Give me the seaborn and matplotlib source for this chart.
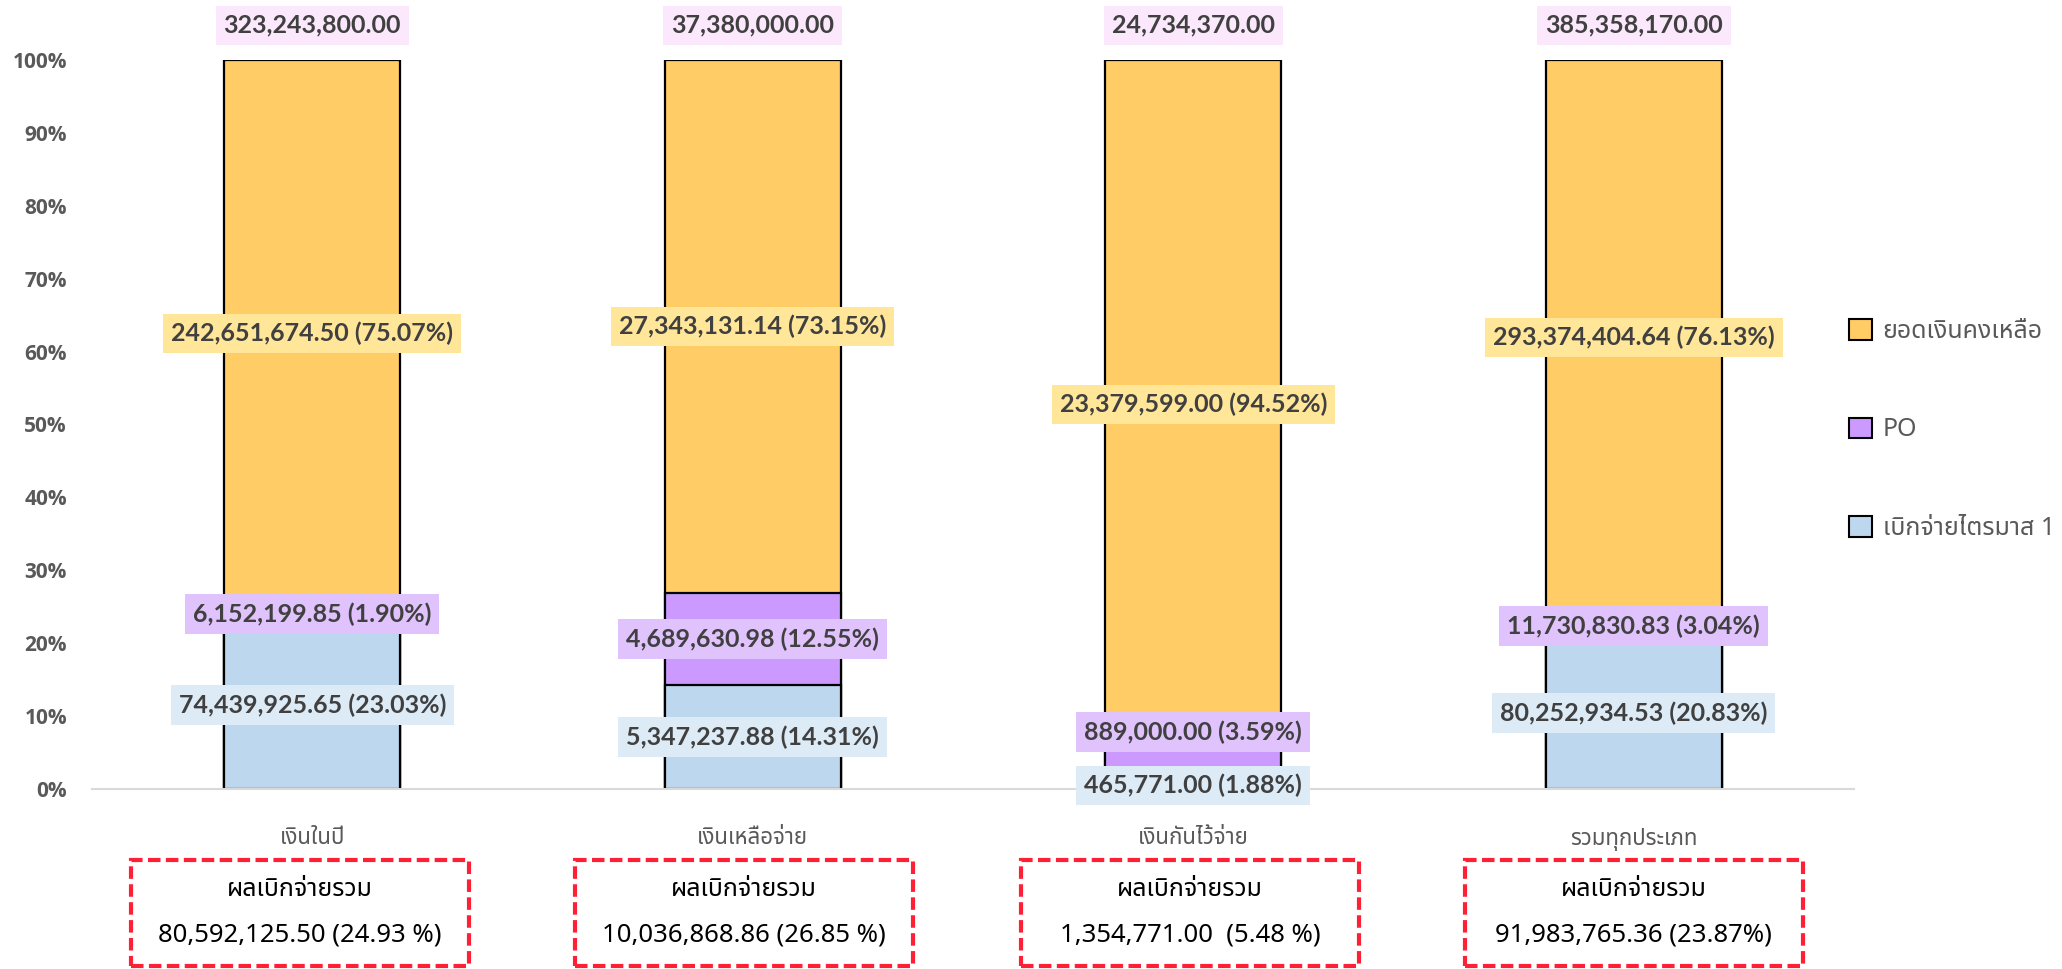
import matplotlib
matplotlib.use("Agg")
import matplotlib.pyplot as plt
import matplotlib.transforms as mtransforms
from matplotlib.patches import Patch, Rectangle
import numpy as np
import pandas as pd
import seaborn as sns

# ---------------- data ----------------
categories = ["เงินในปี", "เงินเหลือจ่าย", "เงินกันไว้จ่าย", "รวมทุกประเภท"]
series_names = ["เบิกจ่ายไตรมาส 1", "PO", "ยอดเงินคงเหลือ"]

disbursed_values = ["74,439,925.65", "5,347,237.88", "465,771.00", "80,252,934.53"]
disbursed_pct = [23.03, 14.31, 1.88, 20.83]
po_values = ["6,152,199.85", "4,689,630.98", "889,000.00", "11,730,830.83"]
po_pct = [1.90, 12.55, 3.59, 3.04]
remaining_values = ["242,651,674.50", "27,343,131.14", "23,379,599.00", "293,374,404.64"]
remaining_pct = [75.07, 73.15, 94.52, 76.13]
total_values = ["323,243,800.00", "37,380,000.00", "24,734,370.00", "385,358,170.00"]
summary_title = "ผลเบิกจ่ายรวม"
summary_texts = ["80,592,125.50 (24.93 %)", "10,036,868.86 (26.85 %)",
                 "1,354,771.00  (5.48 %)", "91,983,765.36 (23.87%)"]
ytick_labels = ["0%", "10%", "20%", "30%", "40%", "50%", "60%", "70%", "80%", "90%", "100%"]

# ---------------- style ----------------
sns.set_theme(style="white")
plt.rcParams["font.family"] = ["Noto Sans Thai", "DejaVu Sans"]

col_disb = "#BDD7EE"
col_po = "#CC99FF"
col_rem = "#FFCC66"
bg_disb = "#DDEBF7"
bg_po = "#E0C3FD"
bg_rem = "#FFE699"
bg_tot = "#FCE8FC"
txt_col = "#404040"
axis_col = "#595959"
num_font = ["Lato", "DejaVu Sans"]

W, H = 2062, 969
fig = plt.figure(figsize=(W / 100, H / 100), dpi=100)
ax = fig.add_axes([92 / W, 1 - 789 / H, (1854 - 92) / W, (789 - 60) / H])

df = pd.DataFrame({
    "category": categories,
    "disb": np.array(disbursed_pct) / 100,
    "po": np.array(po_pct) / 100,
    "rem": np.array(remaining_pct) / 100,
})
df["c_po"] = df["disb"] + df["po"]
df["c_rem"] = df["c_po"] + df["rem"]

bar_w = 0.4
for col, color in [("c_rem", col_rem), ("c_po", col_po), ("disb", col_disb)]:
    sns.barplot(data=df, x="category", y=col, color=color, width=bar_w,
                edgecolor="black", linewidth=1.6, ax=ax, saturation=1, zorder=2)

ax.set_ylim(0, 1)
ax.set_xlim(-0.5, len(categories) - 0.5)
ax.set_yticks(np.linspace(0, 1, 11))
ax.set_yticklabels(ytick_labels, fontsize=15, fontweight="bold", color=axis_col,
                   family=["Open Sans", "DejaVu Sans"])
ax.tick_params(axis="y", length=0, pad=18)
ax.set_xticks(range(len(categories)))
ax.set_xticklabels(categories, fontsize=16, color=axis_col)
ax.tick_params(axis="x", which="major", length=0, pad=28)
ax.set_xticks(np.arange(-0.5, len(categories)), minor=True)
ax.tick_params(axis="x", which="minor", length=7, width=1.2, color="#D9D9D9", direction="out")
ax.set_xlabel("")
ax.set_ylabel("")
for s in ["top", "right", "left"]:
    ax.spines[s].set_visible(False)
ax.spines["bottom"].set_color("#D9D9D9")
ax.spines["bottom"].set_linewidth(1.5)
ax.spines["bottom"].set_zorder(3)

# ---------------- data labels ----------------
label_kw = dict(ha="center", va="center", fontsize=18, fontweight="bold", color=txt_col,
                family=num_font, zorder=5, clip_on=False)
box = "square,pad=0.32"
lab_override = {(2, "po"): 0.078, (2, "disb"): 0.005}
for i in range(len(categories)):
    d, p, r = df.loc[i, "disb"], df.loc[i, "po"], df.loc[i, "rem"]
    y_d = lab_override.get((i, "disb"), d / 2)
    y_p = lab_override.get((i, "po"), d + p / 2)
    y_r = d + p + r / 2
    ax.text(i, y_r, f"{remaining_values[i]} ({remaining_pct[i]:.2f}%)",
            bbox=dict(boxstyle=box, fc=bg_rem, ec="none"), **label_kw)
    ax.text(i, y_p, f"{po_values[i]} ({po_pct[i]:.2f}%)",
            bbox=dict(boxstyle=box, fc=bg_po, ec="none"), **label_kw)
    ax.text(i, y_d, f"{disbursed_values[i]} ({disbursed_pct[i]:.2f}%)",
            bbox=dict(boxstyle=box, fc=bg_disb, ec="none"), **label_kw)
    ax.text(i, 1.048, total_values[i],
            bbox=dict(boxstyle=box, fc=bg_tot, ec="none"), **label_kw)

# ---------------- summary boxes ----------------
trans = mtransforms.blended_transform_factory(ax.transData, fig.transFigure)
cat_px = (1854 - 92) / len(categories)
box_dx_px = [-12, -9, -3, 0]
box_w = 338 / cat_px
box_top = 1 - 860 / H
box_bot = 1 - 966 / H
for i in range(len(categories)):
    cx = i + box_dx_px[i] / cat_px
    rect = Rectangle((cx - box_w / 2, box_bot), box_w, box_top - box_bot, transform=trans,
                     fill=False, ec="#FF2035", lw=3, linestyle=(0, (3, 1.3)),
                     clip_on=False)
    fig.add_artist(rect)
    fig.text(cx, 1 - 890 / H, summary_title, transform=trans, ha="center", va="center",
             fontsize=18, color="black")
    fig.text(cx, 1 - 935 / H, summary_texts[i], transform=trans, ha="center", va="center",
             fontsize=18.5, color="black")

# ---------------- legend ----------------
handles = [Patch(fc=col_rem, ec="black", lw=1.5),
           Patch(fc=col_po, ec="black", lw=1.5),
           Patch(fc=col_disb, ec="black", lw=1.5)]
labels = [series_names[2], series_names[1], series_names[0]]
leg = fig.legend(handles, labels, loc="center left", bbox_to_anchor=(1849 / W, 1 - 430 / H),
                 frameon=False, fontsize=18, labelcolor=axis_col, handlelength=0.9,
                 handleheight=0.9, handletextpad=0.45, labelspacing=2.95,
                 borderpad=0, borderaxespad=0)

fig.savefig("out.png", dpi=100)
